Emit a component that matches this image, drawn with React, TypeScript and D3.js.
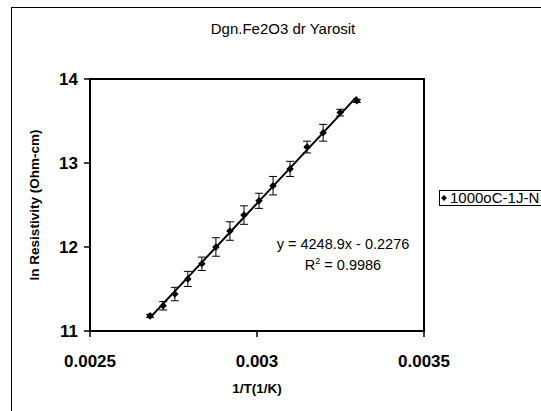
import React from 'react';
import * as d3 from 'd3';

// 1/T values (1/K)
const invT = [0.00268, 0.002719, 0.002754, 0.002793, 0.002835, 0.002877, 0.002919, 0.002961, 0.003006, 0.003048, 0.003099, 0.00315, 0.003198, 0.003249, 0.003299];
// ln resistivity (Ohm-cm)
const lnRho = [11.18, 11.3, 11.44, 11.62, 11.8, 12.0, 12.19, 12.38, 12.55, 12.73, 12.93, 13.19, 13.36, 13.6, 13.74];
// error bar half heights
const errs = [0.02, 0.05, 0.08, 0.09, 0.08, 0.11, 0.11, 0.11, 0.09, 0.11, 0.09, 0.07, 0.1, 0.04, 0.02];

const xTicks = [0.0025, 0.003, 0.0035];
const xTickLabels = ['0.0025', '0.003', '0.0035'];
const yTicks = [11, 12, 13, 14];

const slope = 4248.9;
const intercept = -0.2276;

const title = 'Dgn.Fe2O3 dr Yarosit';
const xTitle = '1/T(1/K)';
const yTitle = 'ln Resistivity (Ohm-cm)';
const seriesName = '1000oC-1J-N';

const FONT = '"Liberation Sans", Arial, sans-serif';

export default function App() {
  const left = 90, right = 424, top = 79, bottom = 331;
  const x = d3.scaleLinear().domain([0.0025, 0.0035]).range([left, right]);
  const y = d3.scaleLinear().domain([11, 14]).range([bottom, top]);

  const points = invT.map((v, i) => ({ x: v, y: lnRho[i], e: errs[i] }));
  const xFirst = d3.min(invT) as number;
  const xLast = d3.max(invT) as number;
  const trend = d3.line<number>()
    .x(d => x(d))
    .y(d => y(slope * d + intercept))([xFirst, xLast]) as string;

  const diamond = d3.symbol().type(d3.symbolDiamond2).size(36)() as string;
  const legendDiamond = d3.symbol().type(d3.symbolDiamond2).size(22)() as string;

  return (
    <svg width={541} height={411} style={{ position: 'absolute', left: 0, top: 0, background: '#fff' }} fontFamily={FONT}>
      <rect x={0} y={0} width={541} height={411} fill="#fff" />
      {/* chart area border */}
      <rect x={11.5} y={7.5} width={700} height={600} fill="none" stroke="#000" strokeWidth={1} />

      <text x={283} y={34} textAnchor="middle" fontSize={15}>{title}</text>

      {/* plot frame */}
      <rect x={left} y={top} width={right - left} height={bottom - top} fill="none" stroke="#000" strokeWidth={2} />

      {/* y axis ticks */}
      {yTicks.map(t => (
        <g key={'y' + t}>
          <line x1={left - 6} x2={left} y1={y(t)} y2={y(t)} stroke="#000" strokeWidth={1.5} />
          <text x={left - 12} y={y(t) + 6} textAnchor="end" fontSize={17} fontWeight="bold">{t}</text>
        </g>
      ))}

      {/* x axis ticks */}
      {xTicks.map((t, i) => (
        <g key={'x' + t}>
          <line x1={x(t)} x2={x(t)} y1={bottom} y2={bottom + 6} stroke="#000" strokeWidth={1.5} />
          <text x={x(t)} y={bottom + 36} textAnchor="middle" fontSize={17} fontWeight="bold">{xTickLabels[i]}</text>
        </g>
      ))}

      <text x={(left + right) / 2} y={393} textAnchor="middle" fontSize={13.5} fontWeight="bold">{xTitle}</text>
      <text transform={`translate(39,${(top + bottom) / 2}) rotate(-90)`} textAnchor="middle" fontSize={13.5} fontWeight="bold">{yTitle}</text>

      {/* error bars */}
      {points.map((p, i) => (
        <g key={'e' + i} stroke="#000" strokeWidth={1}>
          <line x1={x(p.x)} x2={x(p.x)} y1={y(p.y - p.e)} y2={y(p.y + p.e)} />
          <line x1={x(p.x) - 4} x2={x(p.x) + 4} y1={y(p.y - p.e)} y2={y(p.y - p.e)} />
          <line x1={x(p.x) - 4} x2={x(p.x) + 4} y1={y(p.y + p.e)} y2={y(p.y + p.e)} />
        </g>
      ))}

      {/* trend line */}
      <path d={trend} fill="none" stroke="#000" strokeWidth={2} />

      {/* markers */}
      {points.map((p, i) => (
        <path key={'m' + i} d={diamond} transform={`translate(${x(p.x)},${y(p.y)})`} fill="#000" />
      ))}

      <text x={343} y={249} textAnchor="middle" fontSize={14.5}>y = 4248.9x - 0.2276</text>
      <text x={343} y={270} textAnchor="middle" fontSize={14.5}>
        R<tspan dy={-6} fontSize={9}>2</tspan><tspan dy={6}> = 0.9986</tspan>
      </text>

      {/* legend */}
      <rect x={439.5} y={190.5} width={150} height={15} fill="#fff" stroke="#000" strokeWidth={1} />
      <path d={legendDiamond} transform="translate(444,198)" fill="#000" />
      <text x={450} y={203} fontSize={15}>{seriesName}</text>
    </svg>
  );
}
